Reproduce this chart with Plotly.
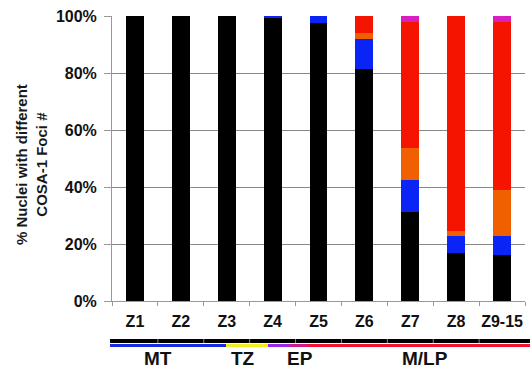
import plotly.graph_objects as go

categories = ["Z1", "Z2", "Z3", "Z4", "Z5", "Z6", "Z7", "Z8", "Z9-15"]
foci_0 = [100, 100, 100, 99.2, 97.6, 81.5, 31.3, 16.8, 16.0]
foci_low = [0, 0, 0, 0.8, 2.4, 10.5, 11.1, 5.9, 6.7]
foci_5 = [0, 0, 0, 0, 0, 2.0, 11.2, 2.0, 16.2]
foci_6 = [0, 0, 0, 0, 0, 6.0, 44.4, 75.3, 59.1]
foci_high = [0, 0, 0, 0, 0, 0, 2.0, 0, 2.0]

series = [
    ("0", foci_0, "#000000"),
    ("1-4", foci_low, "#0a24f5"),
    ("5", foci_5, "#f06000"),
    ("6", foci_6, "#f51400"),
    (">6", foci_high, "#d820c0"),
]

y_ticks = [0, 20, 40, 60, 80, 100]
zone_labels = ["MT", "TZ", "EP", "M/LP"]

FONT = "Liberation Sans, Arial, sans-serif"
W, H = 530, 368
L, R, T, B = 112, 5, 16, 67
pw = W - L - R
ph = H - T - B


def px_x(px):
    return (px - L) / pw


def px_y(py):
    return (H - B - py) / ph


fig = go.Figure()
for name, vals, col in series:
    fig.add_trace(go.Bar(x=categories, y=vals, name=name, marker=dict(color=col, line=dict(width=0))))

shapes = []
# black stage bar
shapes.append(dict(type="line", xref="paper", yref="paper", x0=px_x(110), x1=px_x(530),
                   y0=px_y(341), y1=px_y(341), line=dict(color="#000000", width=4)))
for i in range(1, len(categories)):
    shapes.append(dict(type="line", xref="x", yref="paper", x0=i - 0.5, x1=i - 0.5,
                       y0=px_y(339), y1=px_y(343), line=dict(color="#888888", width=1)))
# colored zone line
zone_segments = [
    (110, 226, "#1a2ae0"),
    (226, 268, "#eeee20"),
    (268, 290, "#9a28e8"),
    (290, 308, "#d01888"),
    (308, 530, "#f51030"),
]
for a, b, col in zone_segments:
    shapes.append(dict(type="line", xref="paper", yref="paper", x0=px_x(a), x1=px_x(b),
                       y0=px_y(345.5), y1=px_y(345.5), line=dict(color=col, width=3)))

annotations = [
    dict(text="% Nuclei with different<br>COSA-1 Foci #", xref="paper", yref="paper",
         x=px_x(31), y=px_y(165), textangle=-90, showarrow=False,
         xanchor="center", yanchor="middle",
         font=dict(family=FONT, size=15, color="#1a1a1a", weight="bold")),
]
for lab, cx in zip(zone_labels, [158, 243, 300, 425]):
    annotations.append(dict(text=lab, xref="paper", yref="paper", x=px_x(cx), y=px_y(358.5),
                            showarrow=False, xanchor="center", yanchor="middle",
                            font=dict(family=FONT, size=19, color="#111111", weight="bold")))

fig.update_layout(
    width=W, height=H,
    margin=dict(l=L, r=R, t=T, b=B, pad=0),
    barmode="stack", bargap=0.61,
    showlegend=False,
    plot_bgcolor="white", paper_bgcolor="white",
    shapes=shapes, annotations=annotations,
    xaxis=dict(type="category", showline=True, linecolor="#999999", linewidth=1,
               ticks="outside", tickson="boundaries", ticklen=4, tickcolor="#999999",
               showgrid=False, ticklabelstandoff=6, tickangle=0,
               tickfont=dict(family=FONT, size=16, color="#111111", weight="bold")),
    yaxis=dict(range=[0, 100], tickvals=y_ticks, ticktext=[f"{v}%" for v in y_ticks],
               showline=True, linecolor="#999999", linewidth=1,
               ticks="outside", ticklen=7, tickcolor="#999999",
               showgrid=True, gridcolor="#888888", gridwidth=1, zeroline=False,
               ticklabelstandoff=4,
               tickfont=dict(family=FONT, size=16, color="#111111", weight="bold")),
)

fig.write_html("out.html")
